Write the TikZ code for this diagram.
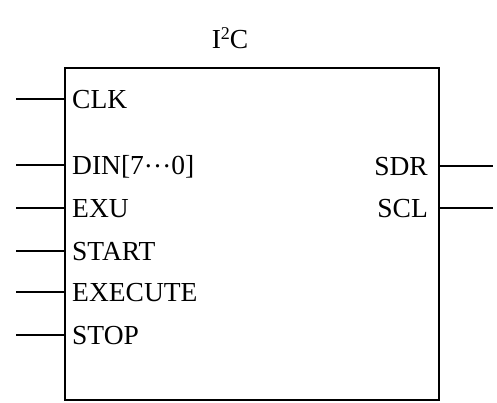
\documentclass[tikz,border=0pt]{standalone}
\usepackage{fontspec}
\setmainfont{Liberation Serif}
\begin{document}
\begin{tikzpicture}[x=1pt,y=-1pt,
  wire/.style={line width=1.5pt},
  pin/.style={inner sep=0pt, font=\fontsize{27.5}{30}\selectfont, text height=18.5pt, text depth=0pt},
  chip/.style={draw, line width=1.6pt, minimum width=374pt, minimum height=332pt, inner sep=0pt}]
  \useasboundingbox[fill=white] (0,0) rectangle (497,403);
  % block body
  \node[chip, anchor=north west] (box) at (64,67) {};
  \node[pin, anchor=center] (title) at (230,39) {I\raisebox{0.3em}{\fontsize{18}{20}\selectfont 2}C};
  % input pins
  \foreach \nm/\txt/\yy in {clk/CLK/99, din/{DIN[7\raisebox{0.25em}{…}0]}/165, exu/EXU/208,
      start/START/251, exe/EXECUTE/292, stop/STOP/335}{
    \node[pin, anchor=west] (\nm) at (72,\yy) {\txt};
    \coordinate (\nm-in) at (16,\yy);
    \coordinate (\nm-edge) at (box.west |- \nm);
    \draw[wire] (\nm-in) -- (\nm-edge);
  }
  % output pins
  \foreach \nm/\txt/\yy in {sdr/SDR/166, scl/SCL/208}{
    \node[pin, anchor=east] (\nm) at (428,\yy) {\txt};
    \coordinate (\nm-out) at (493,\yy);
    \coordinate (\nm-edge) at (box.east |- \nm);
    \draw[wire] (\nm-edge) -- (\nm-out);
  }
\end{tikzpicture}
\end{document}
